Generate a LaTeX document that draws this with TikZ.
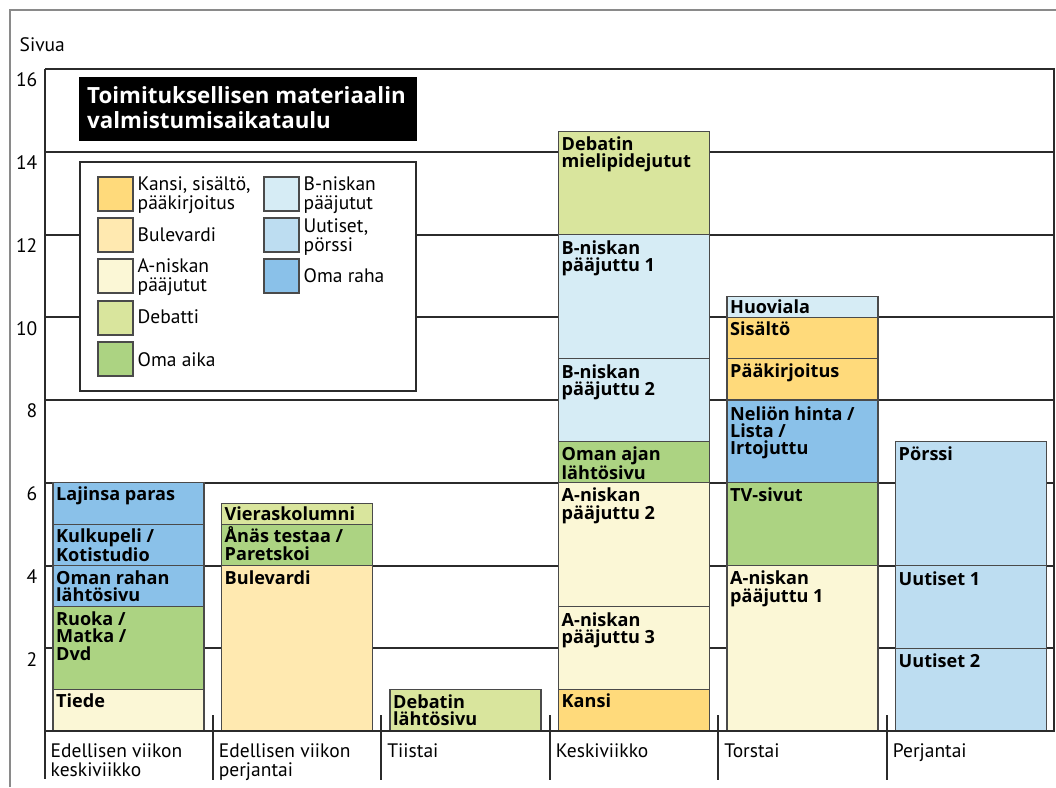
\documentclass[tikz,border=0pt]{standalone}
\usepackage{fontspec}
\setmainfont{PT Sans}
\newfontfamily\labelfont{Open Sans}
\definecolor{ckansi}{HTML}{FFDA7B}
\definecolor{cbulevardi}{HTML}{FFE9B0}
\definecolor{caniskan}{HTML}{FBF7D6}
\definecolor{cdebatti}{HTML}{D9E59D}
\definecolor{comaaika}{HTML}{ACD382}
\definecolor{cbniskan}{HTML}{D6ECF5}
\definecolor{cuutiset}{HTML}{BDDDF1}
\definecolor{comaraha}{HTML}{8AC1E9}
\definecolor{cgrid}{HTML}{2B2B2B}
\definecolor{cedge}{HTML}{4A4A4A}
\definecolor{cframe}{HTML}{8A8A8A}

% #1 column, #2 bottom value, #3 top value, #4 colour, #5 label, #6 name, #7 baseline offset
\newcommand\chartbox[7]{%
  \pgfmathsetmacro\bxl{53+168.5*#1}%
  \pgfmathsetmacro\byb{731-41.375*#2}%
  \pgfmathsetmacro\byt{731-41.375*#3}%
  \draw[boxedge,fill=#4] (\bxl,\byb) rectangle (\bxl+151,\byt);
  \node[boxlabel] (#6) at (\bxl+3,\byt+#7-17) {\rule{0pt}{17pt}#5};
}
% #1 x, #2 top y, #3 colour, #4 text, #5 text y, #6 name
\newcommand\legendentry[6]{%
  \draw[swatchedge,fill=#3] (#1,#2) rectangle (#1+35,#2+34);
  \node[legendlabel] (#6) at (#1+39.5,#5) {\rule{0pt}{14pt}#4};
}

\begin{document}
\begin{tikzpicture}[x=1pt,y=-1pt,
  gridline/.style={draw=cgrid,line width=2pt},
  boxedge/.style={draw=cedge,line width=1.1pt},
  swatchedge/.style={draw=cedge,line width=1.4pt},
  boxlabel/.style={anchor=north west,inner sep=0pt,align=left,
    font=\labelfont\bfseries\fontsize{18.1}{17.3}\selectfont},
  legendlabel/.style={anchor=north west,inner sep=0pt,align=left,
    font=\fontsize{19.5}{18.8}\selectfont},
  axislabel/.style={anchor=base east,inner sep=0pt,
    font=\fontsize{19.5}{19.5}\selectfont},
  daylabel/.style={anchor=north west,inner sep=0pt,align=left,
    font=\fontsize{19.5}{18.3}\selectfont},
  titlelabel/.style={anchor=north west,inner sep=0pt,align=left,text=white,
    font=\labelfont\bfseries\fontsize{22.3}{25}\selectfont}]
\useasboundingbox (0,0) rectangle (1056,787);
\fill[white] (0,0) rectangle (1056,787);

% outer frame
\draw[cframe,line width=1.3pt] (10,787) -- (10,10) -- (1056,10);
\node[anchor=base west,inner sep=0pt,font=\fontsize{19.5}{19.5}\selectfont] (sivua) at (19.5,51) {Sivua};

% grid
\foreach \v in {2,4,...,16} {
  \pgfmathsetmacro\gy{731-41.375*\v}
  \draw[gridline] (45,\gy) -- (1054,\gy);
  \node[axislabel] (ax\v) at (37.5,\gy+17.8) {\v};
}
\draw[gridline] (45,69) -- (45,779);
\draw[gridline] (1054,68) -- (1054,732);

% title
\fill[black] (79,77) rectangle (417,141);
\node[titlelabel] (title) at (87,83) {\rule{0pt}{20pt}Toimituksellisen materiaalin\\valmistumisaikataulu};

% legend
\draw[draw=cgrid,line width=2pt,fill=white] (80,162) rectangle (416,391);
\legendentry{98}{177}{ckansi}{Kansi, sisältö,\\pääkirjoitus}{176}{lg1}
\legendentry{98}{218}{cbulevardi}{Bulevardi}{227.7}{lg2}
\legendentry{98}{259}{caniskan}{A-niskan\\pääjutut}{258.5}{lg3}
\legendentry{98}{301}{cdebatti}{Debatti}{309.5}{lg4}
\legendentry{98}{342}{comaaika}{Oma aika}{352.7}{lg5}
\legendentry{264}{177}{cbniskan}{B-niskan\\pääjutut}{176}{lg6}
\legendentry{264}{218}{cuutiset}{Uutiset,\\pörssi}{218.5}{lg7}
\legendentry{264}{259}{comaraha}{Oma raha}{268.7}{lg8}

% Edellisen viikon keskiviikko
\chartbox{0}{0}{1}{caniskan}{Tiede}{tiede}{18}
\chartbox{0}{1}{3}{comaaika}{Ruoka /\\Matka /\\Dvd}{ruoka}{18.5}
\chartbox{0}{3}{4}{comaraha}{Oman rahan\\lähtösivu}{omanrahan}{18.5}
\chartbox{0}{4}{5}{comaraha}{Kulkupeli /\\Kotistudio}{kulkupeli}{18.5}
\chartbox{0}{5}{6}{comaraha}{Lajinsa paras}{lajinsa}{17.5}
% Edellisen viikon perjantai
\chartbox{1}{0}{4}{cbulevardi}{Bulevardi}{bulevardi}{18.5}
\chartbox{1}{4}{5}{comaaika}{Ånäs testaa /\\Paretskoi}{anas}{18.5}
\chartbox{1}{5}{5.5}{cdebatti}{Vieraskolumni}{vieras}{17}
% Tiistai
\chartbox{2}{0}{1}{cdebatti}{Debatin\\lähtösivu}{debatinl}{18.5}
% Keskiviikko
\chartbox{3}{0}{1}{ckansi}{Kansi}{kansi}{18}
\chartbox{3}{1}{3}{caniskan}{A-niskan\\pääjuttu 3}{an3}{19}
\chartbox{3}{3}{6}{caniskan}{A-niskan\\pääjuttu 2}{an2}{19}
\chartbox{3}{6}{7}{comaaika}{Oman ajan\\lähtösivu}{omanajan}{19}
\chartbox{3}{7}{9}{cbniskan}{B-niskan\\pääjuttu 2}{bn2}{19.5}
\chartbox{3}{9}{12}{cbniskan}{B-niskan\\pääjuttu 1}{bn1}{19.5}
\chartbox{3}{12}{14.5}{cdebatti}{Debatin\\mielipidejutut}{debatinm}{19}
% Torstai
\chartbox{4}{0}{4}{caniskan}{A-niskan\\pääjuttu 1}{an1}{19}
\chartbox{4}{4}{6}{comaaika}{TV-sivut}{tv}{19}
\chartbox{4}{6}{8}{comaraha}{Neliön hinta /\\Lista /\\Irtojuttu}{nelion}{20}
\chartbox{4}{8}{9}{ckansi}{Pääkirjoitus}{paakirj}{18.5}
\chartbox{4}{9}{10}{ckansi}{Sisältö}{sisalto}{18}
\chartbox{4}{10}{10.5}{cbniskan}{Huoviala}{huoviala}{17}
% Perjantai
\chartbox{5}{0}{2}{cuutiset}{Uutiset 2}{uut2}{19.3}
\chartbox{5}{2}{4}{cuutiset}{Uutiset 1}{uut1}{19.3}
\chartbox{5}{4}{7}{cuutiset}{Pörssi}{porssi}{19}

% baseline and day ticks
\draw[gridline] (45,731) -- (1054,731);
\foreach \i in {1,...,5} {
  \pgfmathsetmacro\tx{44.2+168.5*\i}
  \draw[gridline] (\tx,715) -- (\tx,780);
}
\node[daylabel] (d0) at (50.5,743.7) {\rule{0pt}{14pt}Edellisen viikon\\keskiviikko};
\node[daylabel] (d1) at (218.7,743.7) {\rule{0pt}{14pt}Edellisen viikon\\perjantai};
\node[daylabel] (d2) at (387.2,743.7) {\rule{0pt}{14pt}Tiistai};
\node[daylabel] (d3) at (555.7,743.7) {\rule{0pt}{14pt}Keskiviikko};
\node[daylabel] (d4) at (724.2,743.7) {\rule{0pt}{14pt}Torstai};
\node[daylabel] (d5) at (892.7,743.7) {\rule{0pt}{14pt}Perjantai};
\end{tikzpicture}
\end{document}
